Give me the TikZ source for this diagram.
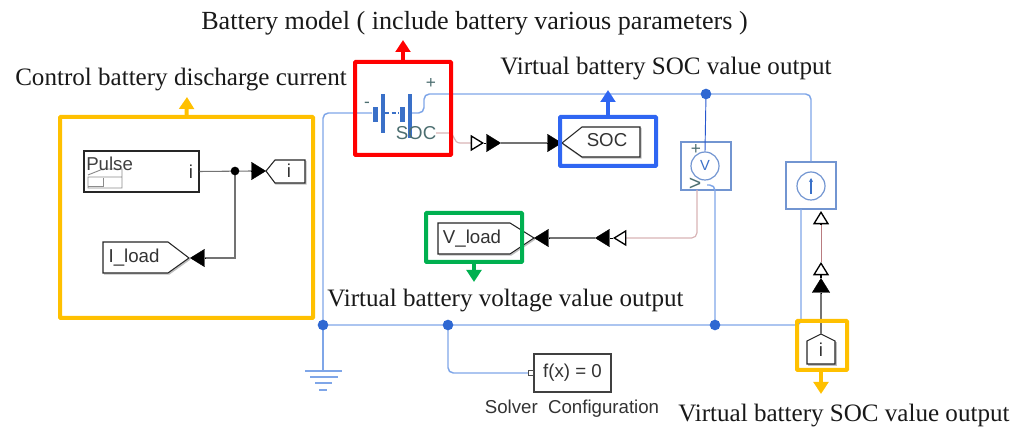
\documentclass[tikz,border=0pt]{standalone}
\usepackage{fontspec}
\setmainfont{Liberation Serif}
\setsansfont{Liberation Sans}
\usetikzlibrary{arrows.meta}
\definecolor{wire}{HTML}{7FA6E8}
\definecolor{dot}{HTML}{2F68D2}
\definecolor{plate}{HTML}{3A70C8}
\definecolor{ygold}{HTML}{FFC000}
\definecolor{rbox}{HTML}{FF0000}
\definecolor{bbox}{HTML}{2F66F2}
\definecolor{gbox}{HTML}{00B050}
\definecolor{palered}{HTML}{D8B4B6}
\definecolor{darkred}{HTML}{B97C80}
\definecolor{ssc}{HTML}{4C6E70}
\newcommand{\PXU}{0.75pt}
\tikzset{
  x=0.75pt,y=-0.75pt,
  caption/.style={font=\fontsize{18.8}{20}\selectfont\rmfamily,inner sep=0,anchor=west,text=black!90},
  sanslabel/.style={font=\fontsize{14}{16}\selectfont\sffamily,inner sep=0,text=black!80},
  wireline/.style={draw=wire,line width=1.1pt,rounded corners=4pt},
  wiredark/.style={draw=bbox!80!black,line width=0.7pt},
  junction/.style={circle,fill=dot,inner sep=0,minimum size=8pt},
  sjunction/.style={circle,fill=black,inner sep=0,minimum size=6.5pt},
  sigline/.style={draw=black!55,line width=0.8pt},
  palewire/.style={draw=palered,line width=0.9pt,rounded corners=4pt},
  blockbox/.style={draw=black!85,line width=0.8pt,fill=white,inner sep=0},
  physbox/.style={draw=wire!90!black,line width=0.9pt,inner sep=0},
  hilite/.style={line width=3pt,rounded corners=0.6pt},
  bigarrow/.style={line width=3pt,-{Triangle[length=9pt,width=11pt]}},
  blacktip/.style={draw=black,line width=0.3pt,-{Triangle[length=11pt,width=13.5pt]}},
  opentip/.style={draw=black,line width=1pt,-{Triangle[open,fill=white,length=10pt,width=12pt]}},
  tagshape/.style={draw=black!85,line width=0.8pt,fill=white,line join=miter},
  tagshadow/.style={draw=black!25,line width=1.1pt},
}
\begin{document}
\begin{tikzpicture}
\useasboundingbox (0,0) rectangle (1022,427);

% named points of the wires
\coordinate (junA) at (706,94);
\coordinate (gndN) at (323,325);
\coordinate (junB) at (448,325);
\coordinate (junC) at (715,325);
\coordinate (batW) at (372,113);
\coordinate (batE) at (411,113);
\coordinate (gndT) at (323,371);

% physical blocks
\node[physbox,minimum width=50*\PXU,minimum height=48*\PXU] (vbox) at (706,166) {};
\node[physbox,minimum width=50*\PXU,minimum height=47*\PXU] (ibox) at (811,185.5) {};
\node[circle,draw=wire!90!black,line width=0.9pt,minimum size=28*\PXU,inner sep=0] (vcirc) at (705,166) {};
\node[inner sep=0,font=\fontsize{11}{11}\selectfont\sffamily,text=plate] (vlabel) at (705,165) {V};
\node[circle,draw=wire!90!black,line width=0.9pt,minimum size=28*\PXU,inner sep=0] (icirc) at (811,186) {};
\draw[draw=plate,line width=0.8pt,-{Stealth[length=3pt,width=3pt]}] (811,194) -- (811,178);
\node[sanslabel,text=ssc,font=\fontsize{13}{13}\selectfont\sffamily] (vplus) at (696,150) {+};
\node[sanslabel,text=ssc,font=\fontsize{16}{16}\selectfont\sffamily] (vgt) at (695,184) {>};

% blue conserving wires
\draw[wireline] (batW) -- (323,113) -- (gndN);
\draw[wireline] (batE) -- (424,113) -- (424,94) -- (junA);
\draw[wireline] (junA) -- (811,94) -- (ibox.north);
\draw[wiredark,draw=bbox!85!black] (junA) -- (vcirc.north);
\draw[wireline] (707,185) -- (715,185) -- (junC);
\draw[wireline] (gndN) -- (801,325) -- (801,209);
\draw[wireline] (gndN) -- (gndT);
\draw[wireline] (junB) -- (448,373) -- (528,373);
\node[junction] (jA) at (junA) {};
\node[junction] (jN) at (gndN) {};
\node[junction] (jB) at (junB) {};
\node[junction] (jC) at (junC) {};

% ground
\draw[draw=wire,line width=1.2pt] (305,371) -- (342,371) (310,377) -- (338,377) (315,383) -- (332,383) (319,390) -- (327,390);

% solver
\node[blockbox,draw=black!75,minimum width=77*\PXU,minimum height=38*\PXU,sanslabel,draw] (solver) at (572.5,373) {f(x) = 0};
\draw[draw=black!70,line width=0.7pt,fill=white] (528.5,370.5) rectangle (533.5,375.5);
\node[sanslabel] (solverT) at (572,409) {Solver\ \ Configuration};

% battery
\fill[plate] (372.5,107) rectangle (377.5,122);
\fill[plate] (380.5,94) rectangle (385,133);
\fill[plate] (399.5,107) rectangle (404.5,122);
\fill[plate] (407.5,94) rectangle (412,138);
\draw[plate,line width=0.8pt,dash pattern=on 3pt off 2pt] (385,113) -- (399,113);
\node[sanslabel,text=ssc,font=\fontsize{13}{13}\selectfont\sffamily] (batminus) at (367,105) {-};
\node[sanslabel,text=ssc,font=\fontsize{13}{13}\selectfont\sffamily] (batplus) at (431,84) {+};
\node[sanslabel,text=ssc] (batsoc) at (416,133) {SOC};

% pulse block
\node[blockbox,minimum width=115*\PXU,minimum height=41*\PXU] (pulse) at (141.5,171.5) {};
\draw[black!45,line width=0.7pt] (88,175) -- (103,169) -- (122,169) -- (122,188) -- (88,188) -- (88,177) -- (122,177);
\draw[black!45,line width=0.7pt] (88,186) -- (103,186) -- (103,178);
\node[sanslabel,anchor=west,text=black!75] (pulseT) at (86,164) {Pulse};
\node[sanslabel,text=black!80] (pulsei) at (191,172) {i};

% tags
\draw[tagshadow] (267,172) -- (276,184) -- (306,184) -- (306,161);
\draw[tagshape] (266,171) -- (275,160) -- (305,160) -- (305,183) -- (275,183) -- cycle;
\coordinate (itagTip) at (266,171);
\node[sanslabel] (itag) at (289,171) {i};

\draw[tagshadow] (104,274) -- (169,274) -- (190,259);
\draw[tagshape] (103,242) -- (168,242) -- (189,258) -- (168,273) -- (103,273) -- cycle;
\coordinate (iloadTip) at (190,258);
\node[sanslabel] (iload) at (134,258) {I\_load};

\draw[tagshadow] (563,144) -- (583,158) -- (641,158) -- (641,128);
\draw[tagshape] (562,143) -- (582,127) -- (640,127) -- (640,157) -- (582,157) -- cycle;
\coordinate (socTip) at (562,143);
\node[sanslabel] (soctag) at (607,140.5) {SOC};

\draw[tagshadow] (439,255) -- (511,255) -- (535,239);
\draw[tagshape] (438,223) -- (510,223) -- (534,238) -- (510,254) -- (438,254) -- cycle;
\coordinate (vloadTip) at (534,238);
\node[sanslabel] (vload) at (472,239) {V\_load};

\draw[tagshadow] (808,365) -- (836,365) -- (836,342);
\draw[tagshape] (807,341) -- (821,334) -- (835,341) -- (835,364) -- (807,364) -- cycle;
\coordinate (ibotTip) at (821,334);
\node[sanslabel] (ibot) at (821,350) {i};

% signal wires
\coordinate (pulseJ) at (235,171);
\coordinate (a1) at (252,171);
\coordinate (a2) at (205,258);
\draw[sigline] (pulse.east) -- (a1);
\draw[sigline] (pulseJ) -- (235,258) -- (a2);
\node[sjunction] (sj) at (pulseJ) {};
\draw[blacktip] (a1) -- (itagTip);
\draw[blacktip] (a2) -- (iloadTip);

\coordinate (s0) at (436,133);
\coordinate (s1) at (471,143);
\coordinate (s2) at (484,143);
\coordinate (s3) at (501,143);
\coordinate (s4) at (547,143);
\draw[draw=palered,line width=0.9pt] (s0) -- (449,133) .. controls (455,133) and (453,143) .. (460,143) -- (s1);
\draw[opentip] (s1) -- (s2);
\draw[blacktip] (s2) -- (s3);
\draw[sigline] (s3) -- (s4);
\draw[blacktip] (s4) -- (socTip);

\coordinate (v0) at (697,190);
\coordinate (v1) at (626,238);
\coordinate (v2) at (613,238);
\coordinate (v3) at (595,238);
\coordinate (v4) at (549,238);
\draw[palewire] (v0) -- (697,238) -- (v1);
\draw[opentip] (v1) -- (v2);
\draw[blacktip] (v2) -- (v3);
\draw[sigline] (v3) -- (v4);
\draw[blacktip] (v4) -- (vloadTip);

\coordinate (u0) at (821,293);
\coordinate (u1) at (821,278);
\coordinate (u2) at (821,262);
\coordinate (u3) at (821,225);
\coordinate (u4) at (821,211);
\draw[sigline] (ibotTip) -- (u0);
\draw[blacktip] (u0) -- (u1);
\draw[opentip] (u1) -- (u2);
\draw[draw=darkred,line width=0.7pt] (u2) -- (u3);
\draw[opentip] (u3) -- (u4);

% highlight boxes
\node[hilite,draw=ygold,minimum width=253*\PXU,minimum height=201*\PXU,inner sep=0] (yA) at (186.5,217.5) {};
\node[hilite,draw=rbox,minimum width=96*\PXU,minimum height=93*\PXU,inner sep=0] (rA) at (403,108.5) {};
\node[hilite,draw=bbox,minimum width=96*\PXU,minimum height=49*\PXU,inner sep=0] (bA) at (608,141.5) {};
\node[hilite,draw=gbox,minimum width=96*\PXU,minimum height=49*\PXU,inner sep=0] (gA) at (474,237.5) {};
\node[hilite,draw=ygold,minimum width=50*\PXU,minimum height=49*\PXU,inner sep=0] (yB) at (822,345.5) {};

% captions
\node[caption,font=\fontsize{19.6}{20}\selectfont\rmfamily] (capBat) at (201,23) {Battery model ( include battery various parameters )};
\node[caption] (capCur) at (15,80) {Control battery discharge current};
\node[caption] (capSoc) at (500,69) {Virtual battery SOC value output};
\node[caption] (capVol) at (327,301) {Virtual battery voltage value output};
\node[caption] (capOut) at (678,416) {Virtual battery SOC value output};

\coordinate (tipY) at (187,97);
\coordinate (tipR) at (403,40);
\coordinate (tipB) at (608,90);
\coordinate (tipG) at (474,282);
\coordinate (tipO) at (821,394);
\draw[bigarrow,draw=ygold] (yA.north) -- (tipY);
\draw[bigarrow,draw=rbox] (rA.north) -- (tipR);
\draw[bigarrow,draw=bbox] (bA.north) -- (tipB);
\draw[bigarrow,draw=gbox] (gA.south) -- (tipG);
\draw[bigarrow,draw=ygold] (821,370) -- (tipO);
\end{tikzpicture}
\end{document}
